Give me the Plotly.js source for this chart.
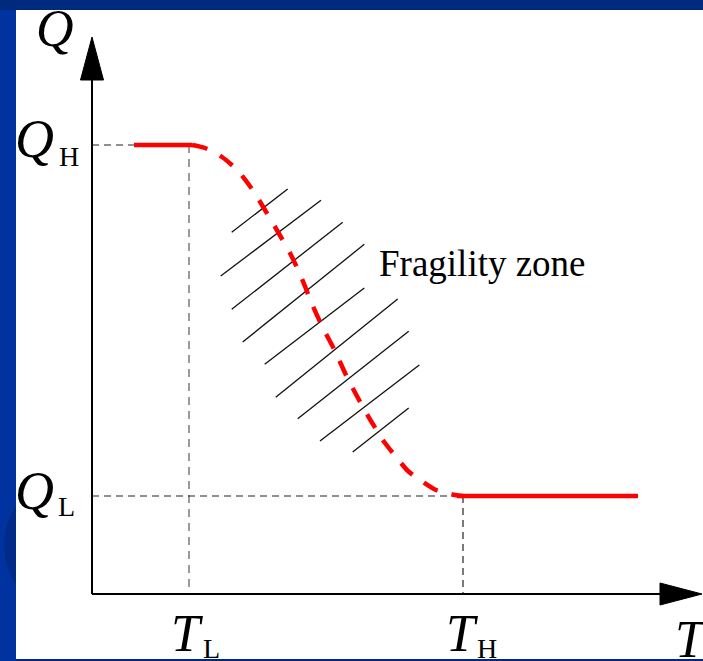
<!DOCTYPE html>
<html>
<head>
<meta charset="utf-8">
<script src="https://cdn.plot.ly/plotly-3.0.1.min.js"></script>
<style>
  html, body { margin: 0; padding: 0; width: 703px; height: 661px; overflow: hidden; background: #002a7e; }
  #strip { position: absolute; left: 0; top: 10px; width: 16px; height: 651px; background: #0033a0; overflow: hidden; }
  .ring { position: absolute; border-radius: 50%; background: #002b88; }
  #panel { position: absolute; left: 16px; top: 10px; width: 687px; height: 649px; background: #ffffff; }
  #chart { position: absolute; left: 0; top: 0; width: 703px; height: 661px; }
</style>
</head>
<body>
<div id="strip">
  <div class="ring" style="left:4px; top:470px; width:120px; height:130px;"></div>
</div>
<div id="panel"></div>
<div id="chart"></div>
<script>
// Characteristic levels (arbitrary units)
const qHigh = 44.9;
const qLow = 9.8;
const tLow = 9.7;
const tHigh = 37.1;

// Flat part at high Q
const highPlateauT = [4.2, 10.0];
const highPlateauQ = [44.9, 44.9];

// Transition between the two plateaus (dashed)
const transitionT = [10.0, 11.3, 13.0, 14.6, 16.0, 17.3, 18.6, 19.9, 21.0, 22.0, 23.1, 24.3,
                     25.4, 26.6, 27.9, 29.3, 30.5, 31.6, 33.1, 34.4, 36.3, 37.1];
const transitionQ = [44.9, 44.6, 43.7, 42.3, 40.5, 38.4, 36.2, 33.9, 31.5, 29.0, 26.6, 24.3,
                     21.9, 19.6, 17.3, 15.1, 13.6, 12.3, 11.2, 10.4, 9.9, 9.8];

// Flat part at low Q
const lowPlateauT = [36.5, 54.6];
const lowPlateauQ = [9.8, 9.8];

// Hatching of the fragility zone: segment pairs separated by nulls
const hatchT = [13.97, 19.57, null, 12.87, 22.90, null, 13.97, 25.07, null,
                15.07, 27.23, null, 17.27, 27.23, null, 18.37, 30.57, null,
                20.57, 31.67, null, 22.80, 32.73, null, 26.07, 31.67];
const hatchQ = [36.17, 40.50, null, 31.80, 39.37, null, 28.47, 37.17, null,
                25.20, 34.97, null, 22.97, 30.60, null, 19.67, 29.50, null,
                17.53, 26.27, null, 15.30, 22.90, null, 14.20, 18.60];

const zoneLabel = 'Fragility zone';

// Axis ranges and extents
const tRange = [-1.5, 61.0];
const qRange = [-1.5, 55.7];
const tAxisEnd = 56.8, tArrowTip = 61.0, tArrowHalf = 1.1;
const qAxisEnd = 51.4, qArrowTip = 55.7, qArrowHalf = 1.15;

const serif = '"Liberation Serif", "Times New Roman", serif';
const guideDark = { color: '#222222', width: 1.2, dash: '7px,5px' };
const guideLight = { color: '#7a7a7a', width: 1.5, dash: '8px,6px' };

const traces = [
  { x: [0, tLow], y: [qHigh, qHigh], mode: 'lines', line: guideDark, hoverinfo: 'skip' },
  { x: [tLow, tLow], y: [qHigh, 0], mode: 'lines', line: guideLight, hoverinfo: 'skip' },
  { x: [0, tHigh], y: [qLow, qLow], mode: 'lines', line: guideDark, hoverinfo: 'skip' },
  { x: [tHigh, tHigh], y: [qLow, 0], mode: 'lines', line: guideDark, hoverinfo: 'skip' },
  { x: hatchT, y: hatchQ, mode: 'lines', line: { color: '#111111', width: 1.3 }, connectgaps: false, hoverinfo: 'skip' },
  { x: highPlateauT, y: highPlateauQ, mode: 'lines', line: { color: '#ff0000', width: 4.5 } },
  { x: transitionT, y: transitionQ, mode: 'lines',
    line: { color: '#ff0000', width: 4.5, dash: '16px,14px', shape: 'spline', smoothing: 0.8 } },
  { x: lowPlateauT, y: lowPlateauQ, mode: 'lines', line: { color: '#ff0000', width: 4.5 } }
];

const shapes = [
  { type: 'line', xref: 'x', yref: 'y', x0: 0, y0: 0, x1: 0, y1: qAxisEnd, line: { color: '#000', width: 2 } },
  { type: 'line', xref: 'x', yref: 'y', x0: 0, y0: 0, x1: tAxisEnd, y1: 0, line: { color: '#000', width: 2 } },
  { type: 'path', xref: 'x', yref: 'y', fillcolor: '#000', line: { color: '#000', width: 1 },
    path: `M ${-qArrowHalf},${qAxisEnd} L ${qArrowHalf},${qAxisEnd} L 0,${qArrowTip} Z` },
  { type: 'path', xref: 'x', yref: 'y', fillcolor: '#000', line: { color: '#000', width: 1 },
    path: `M ${tAxisEnd},${-tArrowHalf} L ${tAxisEnd},${tArrowHalf} L ${tArrowTip},0 Z` }
];

// Labels sit outside the axis ranges, so they are placed in paper units
// converted from the data units used by the curve.
function label(text, t, q, size, italic) {
  return {
    xref: 'paper', yref: 'paper',
    x: (t - tRange[0]) / (tRange[1] - tRange[0]),
    y: (q - qRange[0]) / (qRange[1] - qRange[0]),
    text: italic ? '<i>' + text + '</i>' : text,
    showarrow: false, xanchor: 'center', yanchor: 'middle',
    font: { family: serif, size: size, color: '#000' }
  };
}

const annotations = [
  label('Q', -3.75, 56.6, 52, true),
  label('Q', -5.8, 45.55, 54, true),
  label('H', -2.35, 43.75, 28, false),
  label('Q', -5.8, 10.35, 54, true),
  label('L', -2.55, 8.75, 28, false),
  label('T', 9.45, -3.9, 52, true),
  label('L', 11.9, -5.4, 28, false),
  label('T', 36.95, -3.95, 52, true),
  label('H', 39.5, -5.4, 28, false),
  label('T', 59.9, -4.5, 52, true),
  label(zoneLabel, 39.05, 33.1, 37, false)
];

const layout = {
  width: 703, height: 661,
  margin: { l: 77, r: 1, t: 37, b: 52 },
  paper_bgcolor: 'rgba(0,0,0,0)', plot_bgcolor: 'rgba(0,0,0,0)',
  showlegend: false,
  xaxis: { range: tRange, showgrid: false, zeroline: false, showline: false,
           showticklabels: false, ticks: '', fixedrange: true },
  yaxis: { range: qRange, showgrid: false, zeroline: false, showline: false,
           showticklabels: false, ticks: '', fixedrange: true },
  shapes: shapes,
  annotations: annotations
};

Plotly.newPlot('chart', traces, layout, { displayModeBar: false, staticPlot: true });
</script>
</body>
</html>
